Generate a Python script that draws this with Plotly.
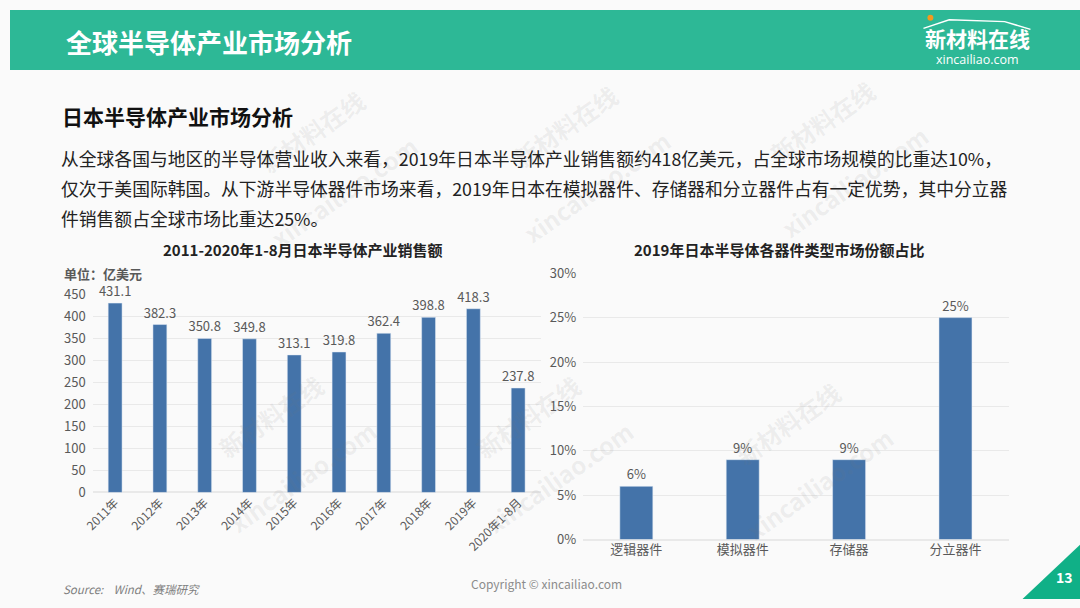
import plotly.graph_objects as go

W, H = 1080, 608

# left chart: Japan semiconductor sales (100 million USD)
years = ["2011年", "2012年", "2013年", "2014年", "2015年", "2016年",
         "2017年", "2018年", "2019年", "2020年1-8月"]
sales = [431.1, 382.3, 350.8, 349.8, 313.1, 319.8, 362.4, 398.8, 418.3, 237.8]
sales_ticks = [0, 50, 100, 150, 200, 250, 300, 350, 400, 450]

# right chart: 2019 market share by device type
devices = ["逻辑器件", "模拟器件", "存储器", "分立器件"]
share = [0.06, 0.09, 0.09, 0.25]
share_ticks = [0, 0.05, 0.10, 0.15, 0.20, 0.25, 0.30]

BAR = "#4473A9"
GRID = "#E9E9E9"
TICK = "#595959"
CJK = "Noto Sans CJK SC"


def px(x):
    return x / W


def py(y):
    return 1 - y / H


fig = go.Figure()

fig.add_trace(go.Bar(
    x=years, y=sales, marker_color=BAR, width=0.31,
    text=[f"{v:.1f}" for v in sales], textposition="outside", constraintext="none",
    textfont=dict(size=13, color=TICK, family=CJK),
    cliponaxis=False, xaxis="x", yaxis="y", hoverinfo="skip",
))
fig.add_trace(go.Bar(
    x=devices, y=share, marker_color=BAR, width=0.31,
    text=[f"{v:.0%}" for v in share], textposition="outside", constraintext="none",
    textfont=dict(size=13, color=TICK, family=CJK),
    cliponaxis=False, xaxis="x2", yaxis="y2", hoverinfo="skip",
))

fig.update_layout(
    width=W, height=H,
    margin=dict(l=0, r=0, t=0, b=0),
    paper_bgcolor="#FAFAFA", plot_bgcolor="rgba(0,0,0,0)",
    showlegend=False,
    font=dict(family=CJK, color=TICK, size=12),
    xaxis=dict(domain=[px(83.5), px(535.5)], tickangle=-45, showgrid=False,
               showline=False, tickfont=dict(size=12, color=TICK), anchor="y"),
    yaxis=dict(domain=[py(498), py(294)], range=[0, 450], tickvals=sales_ticks,
               gridcolor=GRID, zeroline=True, zerolinecolor=GRID, showline=False,
               tickfont=dict(size=13, color=TICK), ticklabelstandoff=6, anchor="x"),
    xaxis2=dict(domain=[px(578.5), px(1008)], showgrid=False, showline=False,
                tickfont=dict(size=13, color=TICK), anchor="y2"),
    yaxis2=dict(domain=[py(546.7), py(271.7)], range=[0, 0.30], tickvals=share_ticks,
                tickformat=".0%", gridcolor=GRID, zeroline=True, zerolinecolor=GRID,
                showline=False, tickfont=dict(size=13, color=TICK), ticklabelstandoff=6,
                anchor="x2"),
)

shapes = [
    # header band
    dict(type="rect", xref="paper", yref="paper", x0=0, x1=1, y0=py(62), y1=1,
         fillcolor="#2DB896", line_width=0, layer="below"),
    # page number triangle
    dict(type="path", xref="paper", yref="paper",
         path=f"M {px(1022)} {py(608)} L 1 {py(552)} L 1 {py(608)} Z",
         fillcolor="#10B087", line_width=0),
    # logo roof
    dict(type="path", xref="paper", yref="paper",
         path=f"M {px(922)} {py(19)} L {px(948)} {py(10)} L {px(1004)} {py(12)} L {px(1030)} {py(20)}",
         line=dict(color="white", width=1.5)),
    dict(type="circle", xref="paper", yref="paper",
         x0=px(926), x1=px(932), y0=py(11), y1=py(5),
         fillcolor="#F39A1E", line_width=0),
]
fig.update_layout(shapes=shapes)

ann = []


def text(x, y, s, size, color, bold=False, xanchor="left", italic=False,
         angle=0, family=CJK):
    if bold:
        s = f"<b>{s}</b>"
    if italic:
        s = f"<i>{s}</i>"
    ann.append(dict(x=px(x), y=py(y), xref="paper", yref="paper", text=s,
                    showarrow=False, xanchor=xanchor, yanchor="middle",
                    textangle=angle, font=dict(size=size, color=color, family=family)))


# watermarks
for wx, wy in [(305, 125), (560, 120), (820, 115), (263, 420), (523, 420), (785, 427)]:
    text(wx, wy, "新材料在线", 24, "rgba(120,120,120,0.10)", bold=True,
         xanchor="center", angle=-35)
    text(wx + 32, wy + 62, "xincailiao.com", 24, "rgba(120,120,120,0.10)", bold=True,
         xanchor="center", angle=-35)

text(55, 33, "全球半导体产业市场分析", 26, "white", bold=True)
text(977, 29, "新材料在线", 21, "white", bold=True, xanchor="center")
text(977, 51, "xincailiao.com", 12.5, "white", xanchor="center", family="Open Sans")

text(50, 109, "日本半导体产业市场分析", 21, "#111111", bold=True)
para = [
    "从全球各国与地区的半导体营业收入来看，2019年日本半导体产业销售额约418亿美元，占全球市场规模的比重达10%，",
    "仅次于美国际韩国。从下游半导体器件市场来看，2019年日本在模拟器件、存储器和分立器件占有一定优势，其中分立器",
    "件销售额占全球市场比重达25%。",
]
for i, line in enumerate(para):
    text(49, 153 + 31 * i, line, 17.8, "#222222")

text(296, 247, "2011-2020年1-8月日本半导体产业销售额", 15, "#222222", bold=True, xanchor="center")
text(52, 272, "单位：亿美元", 13, TICK, bold=True)
text(776, 247, "2019年日本半导体各器件类型市场份额占比", 15, "#222222", bold=True, xanchor="center")

text(51, 598, "Source:    Wind、赛瑞研究", 11.5, "#7F7F7F", italic=True)
text(542, 592, "Copyright © xincailiao.com", 12, "#8C8C8C", xanchor="center")
text(1064, 585, "13", 14, "white", bold=True, xanchor="center")

fig.update_layout(annotations=ann)

# drop the default page margin so the page is exactly the figure's size
post = ("document.documentElement.style.margin='0';"
        "document.documentElement.style.overflow='hidden';"
        "document.body.style.margin='0';document.body.style.padding='0';"
        "document.body.style.overflow='hidden';")

fig.write_html("out.html", post_script=post, config={"displayModeBar": False})
